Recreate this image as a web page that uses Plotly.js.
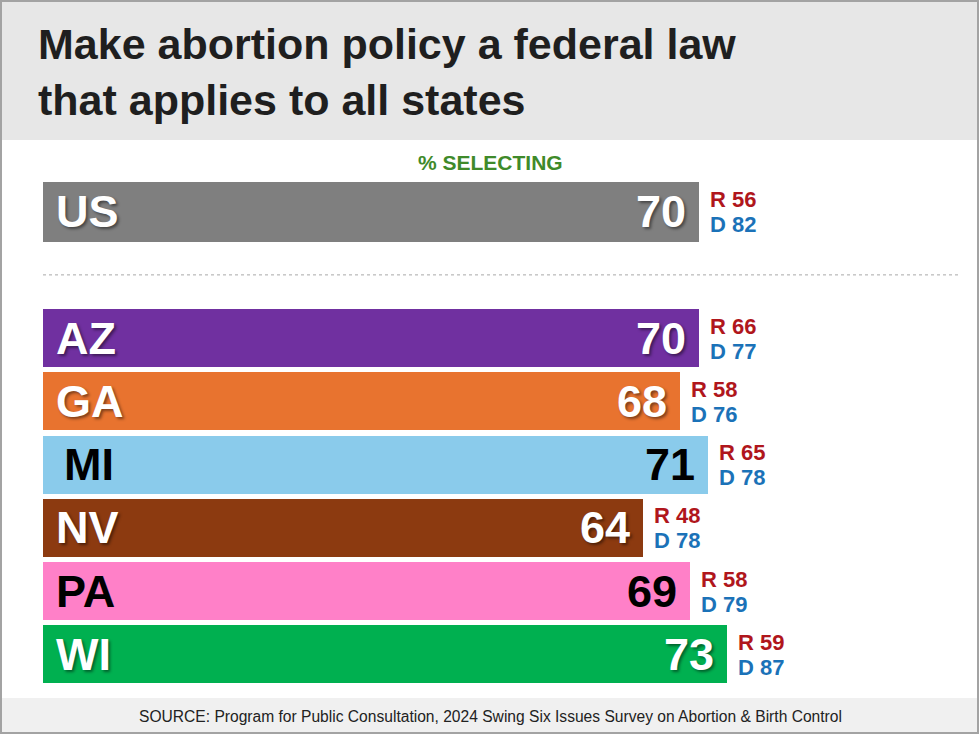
<!DOCTYPE html>
<html>
<head>
<meta charset="utf-8">
<script src="https://cdn.plot.ly/plotly-3.0.1.min.js"></script>
<style>
  html, body { margin: 0; padding: 0; background: #ffffff; }
  #chart { width: 980px; height: 735px; }
</style>
</head>
<body>
<div id="chart"></div>
<script>
// ---- Data ----
const categories = ['US', 'AZ', 'GA', 'MI', 'NV', 'PA', 'WI'];
const values = [70, 70, 68, 71, 64, 69, 73];
const rValues = [56, 66, 58, 65, 48, 58, 59];
const dValues = [82, 77, 76, 78, 78, 79, 87];
const barColors = ['#7f7f7f', '#7030a0', '#e8732f', '#8acbeb', '#8c3a10', '#ff80c8', '#00b050'];
const labelColors = ['#ffffff', '#ffffff', '#ffffff', '#000000', '#ffffff', '#000000', '#ffffff'];
const titleText = 'Make abortion policy a federal law<br>that applies to all states';
const subTitle = '% SELECTING';
const sourceText = 'SOURCE: Program for Public Consultation, 2024 Swing Six Issues Survey on Abortion &amp; Birth Control';

// ---- Geometry helpers (page pixels -> paper coords) ----
const W = 980, H = 735;
const M = { l: 43, r: 0, t: 180, b: 49 };
const PW = W - M.l - M.r, PH = H - M.t - M.b;
const px = p => (p - M.l) / PW;
const py = p => (M.t + PH - p) / PH;

const SPACER = ' ';
const yOrder = [categories[0], SPACER].concat(categories.slice(1));

const FONT = 'Arial, "Liberation Sans", sans-serif';
const shadow = '2px 2px 3px rgba(0,0,0,0.45)';

const trace = {
  type: 'bar',
  orientation: 'h',
  y: categories,
  x: values,
  width: categories.map(c => c === 'US' ? 0.95 : 0.92),
  marker: { color: barColors, line: { width: 0 } },
  hoverinfo: 'skip',
  showlegend: false
};

const annotations = [];
categories.forEach((c, i) => {
  const dark = labelColors[i] === '#000000';
  annotations.push({
    x: 0, y: c, xref: 'x', yref: 'y', xanchor: 'left', yanchor: 'middle',
    xshift: c === 'MI' ? 19 : 11, yshift: 0, showarrow: false,
    text: '<b>' + c + '</b>',
    font: { family: FONT, size: 45, color: labelColors[i], shadow: dark ? 'none' : shadow }
  });
  annotations.push({
    x: values[i], y: c, xref: 'x', yref: 'y', xanchor: 'right', yanchor: 'middle',
    xshift: -11, yshift: 0, showarrow: false,
    text: '<b>' + values[i] + '</b>',
    font: { family: FONT, size: 45, color: labelColors[i], shadow: dark ? 'none' : shadow }
  });
  annotations.push({
    x: values[i], y: c, xref: 'x', yref: 'y', xanchor: 'left', yanchor: 'middle',
    xshift: 9, yshift: 12, showarrow: false,
    text: '<b>R ' + rValues[i] + '</b>',
    font: { family: FONT, size: 22, color: '#b0161c' }
  });
  annotations.push({
    x: values[i], y: c, xref: 'x', yref: 'y', xanchor: 'left', yanchor: 'middle',
    xshift: 9, yshift: -13, showarrow: false,
    text: '<b>D ' + dValues[i] + '</b>',
    font: { family: FONT, size: 22, color: '#1b72b8' }
  });
});

annotations.push({
  x: px(490), y: py(162), xref: 'paper', yref: 'paper', xanchor: 'center', yanchor: 'middle',
  showarrow: false, text: '<b>' + subTitle + '</b>',
  font: { family: FONT, size: 21, color: '#3f8a2a' }
});
annotations.push({
  x: px(490), y: py(716), xref: 'paper', yref: 'paper', xanchor: 'center', yanchor: 'middle',
  showarrow: false, text: sourceText,
  font: { family: '"Liberation Sans Narrow", "Arial Narrow", Arial, "Liberation Sans", sans-serif', size: 15.6, color: '#222222' }
});

const shapes = [
  { type: 'rect', xref: 'paper', yref: 'paper', layer: 'below',
    x0: px(2), x1: px(977), y0: py(140), y1: py(2),
    fillcolor: '#e7e7e7', line: { width: 0 } },
  { type: 'rect', xref: 'paper', yref: 'paper', layer: 'below',
    x0: px(2), x1: px(977), y0: py(732), y1: py(698),
    fillcolor: '#f0f0f0', line: { width: 0 } },
  { type: 'line', xref: 'paper', yref: 'y', layer: 'below',
    x0: px(43), x1: px(960), y0: 1, y1: 1,
    line: { color: '#a8a8a8', width: 1, dash: 'dot' } },
  { type: 'rect', xref: 'paper', yref: 'paper', layer: 'above',
    x0: px(1), x1: px(978), y0: py(733), y1: py(1),
    fillcolor: 'rgba(0,0,0,0)', line: { color: '#a3a3a3', width: 2 } }
];

const layout = {
  width: W, height: H,
  margin: { l: M.l, r: M.r, t: M.t, b: M.b, pad: 0 },
  paper_bgcolor: '#ffffff',
  plot_bgcolor: '#ffffff',
  title: {
    text: '<b>' + titleText + '</b>',
    x: 38 / W, xref: 'container', xanchor: 'left',
    y: 1 - 59 / H, yref: 'container', yanchor: 'top',
    font: { family: FONT, size: 43, color: '#1f1f1f' }
  },
  xaxis: { range: [0, 100], visible: false, showgrid: false, zeroline: false, fixedrange: true },
  yaxis: {
    type: 'category', categoryorder: 'array', categoryarray: yOrder,
    range: [yOrder.length - 0.5, -0.5],
    visible: false, showgrid: false, zeroline: false, fixedrange: true
  },
  bargap: 0,
  showlegend: false,
  annotations: annotations,
  shapes: shapes
};

Plotly.newPlot('chart', [trace], layout, { displayModeBar: false, staticPlot: true });
</script>
</body>
</html>
